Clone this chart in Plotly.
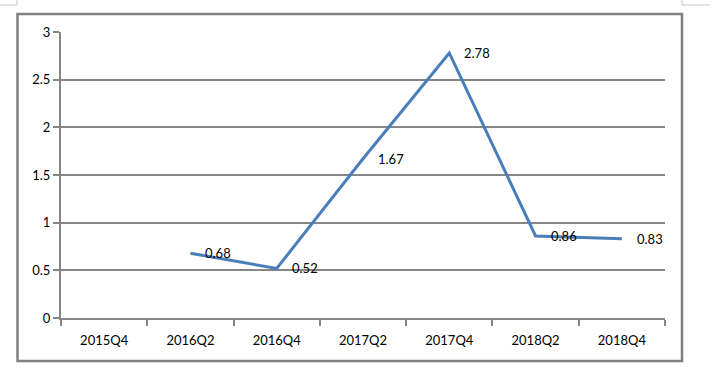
import plotly.graph_objects as go

categories = ["2015Q4", "2016Q2", "2016Q4", "2017Q2", "2017Q4", "2018Q2", "2018Q4"]
values = [None, 0.68, 0.52, 1.67, 2.78, 0.86, 0.83]
label_texts = ["", "0.68", "0.52", "1.67", "2.78", "0.86", "0.83"]

GRAY = "#868686"
FONT = dict(family="Lato, 'Open Sans', sans-serif", size=13, color="#000000")

fig = go.Figure()
fig.add_trace(go.Scatter(
    x=categories, y=values, mode="lines",
    line=dict(color="#4A7EBB", width=3),
    connectgaps=False, hoverinfo="skip", showlegend=False,
))

for c, v, t in zip(categories, values, label_texts):
    if v is None:
        continue
    fig.add_annotation(x=c, y=v, text=t, showarrow=False, xanchor="left",
                       yanchor="middle", xshift=13, font=FONT)

# outer chart frame
L, R, T, B = 61, 665, 32, 318
W, H = R - L, B - T
def px(x):
    return (x - L) / W
def py(y):
    return (B - y) / H

fig.add_shape(type="rect", xref="paper", yref="paper",
              x0=px(17.5), x1=px(682), y0=py(361), y1=py(14),
              line=dict(color="#808080", width=2.5), layer="below")
# page corner marks
fig.add_shape(type="path", xref="paper", yref="paper",
              path=f"M {px(0)} {py(5)} L {px(17)} {py(5)} L {px(17)} {py(0)}",
              line=dict(color="#C8C8C8", width=1))
fig.add_shape(type="path", xref="paper", yref="paper",
              path=f"M {px(682)} {py(0)} L {px(682)} {py(5)} L {px(710)} {py(5)}",
              line=dict(color="#C8C8C8", width=1))

fig.update_layout(
    width=723, height=369,
    margin=dict(l=L, r=723 - R, t=T, b=369 - B),
    paper_bgcolor="white", plot_bgcolor="white",
    font=FONT,
)
fig.update_xaxes(
    type="category", categoryorder="array", categoryarray=categories,
    range=[-0.5, 6.5], showgrid=False, showline=True, linecolor=GRAY, linewidth=2,
    ticks="outside", tickson="boundaries", ticklen=6, tickwidth=2, tickcolor=GRAY,
    ticklabelstandoff=9, tickfont=FONT, fixedrange=True,
)
fig.update_yaxes(
    range=[0, 3], dtick=0.5, tick0=0, showgrid=True, gridcolor=GRAY, gridwidth=2,
    showline=True, linecolor=GRAY, linewidth=2, zeroline=False,
    ticks="outside", ticklen=6, tickwidth=2, tickcolor=GRAY,
    tickfont=FONT, fixedrange=True,
)

fig.write_html("out.html", config={"displayModeBar": False},
               post_script="document.body.style.margin='0';document.body.style.overflow='hidden';")
